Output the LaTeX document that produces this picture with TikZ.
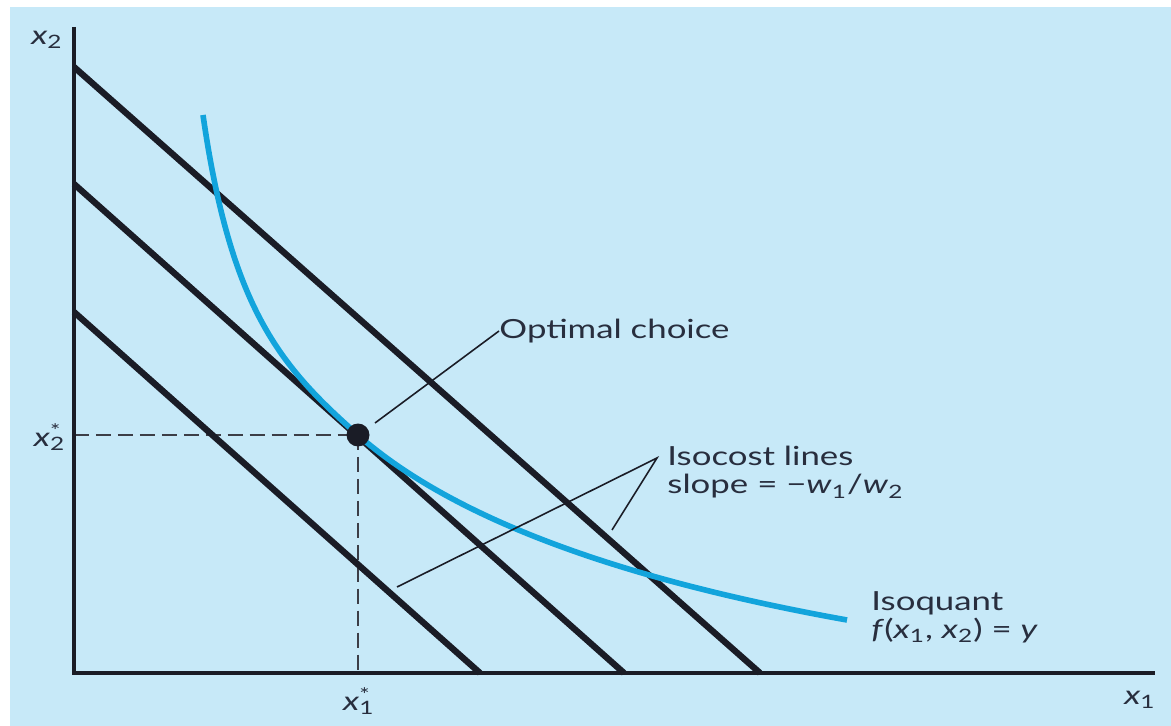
\documentclass[tikz,border=0pt]{standalone}
\usepackage{fontspec}
\setmainfont{Lato}
\usepackage{xcolor}
\usepackage{tikz}
\usetikzlibrary{positioning,calc}

\definecolor{bgblue}{RGB}{199,233,248}
\definecolor{qblue}{RGB}{18,164,220}
\definecolor{ink}{RGB}{26,28,38}
\definecolor{txt}{RGB}{40,46,62}

\newcommand{\vsub}[2]{\textit{#1}\textsubscript{#2}}
\newcommand{\vopt}[2]{\textit{#1}\rlap{\textsubscript{#2}}\textsuperscript{*}}

\begin{document}
\begin{tikzpicture}[
  x=0.02cm, y=-0.02cm,
  axis/.style={draw=ink,line width=2.3pt,line join=miter},
  budget/.style={draw=ink,line width=3.6pt},
  quant/.style={draw=qblue,line width=3.2pt},
  guide/.style={draw=ink!85,line width=1.1pt,dash pattern=on 8.5pt off 4pt},
  lead/.style={draw=ink,line width=0.9pt},
  lbl/.style={inner sep=0pt,text=txt,font=\fontsize{15}{16}\selectfont,align=left,xscale=1.32,transform shape}
]
\fill[white] (0,0) rectangle (1171,726);
\fill[bgblue] (10,7) rectangle (1171,726);
\useasboundingbox (0,0) rectangle (1171,726);

\coordinate (optpt) at (358,435);
\draw[guide] (74,435) -- (optpt);
\draw[guide] (optpt) -- (358,673);

% isocost lines
\draw[budget] (74,67) -- (760,673);
\draw[budget] (74,184) -- (624,673);
\draw[budget] (74,312) -- (480,673);

% isoquant
\draw[quant] (203,115) .. controls (231,310) and (281,367) .. (optpt)
  .. controls (443,510) and (596,575) .. (847,620);

\draw[axis] (74,27) -- (74,673) -- (1155,673);

\node[circle,fill=ink,inner sep=0pt,minimum size=0.46cm] (opt) at (optpt) {};

\node[lbl] (x2lbl) at (47,40) {\vsub{x}{2}};
\node[lbl] (x1lbl) at (1140,700) {\vsub{x}{1}};
\node[lbl,anchor=east] (x2star) at (62,437) {\vopt{x}{2}};
\node[lbl] (x1star) at (357,701) {\vopt{x}{1}};

\node[lbl,anchor=west] (optlbl) at (499,331) {Optimal choice};
\node[lbl,anchor=north west] (costlbl) at (667,446) {Isocost lines\\slope = −\vsub{w}{1}/\vsub{w}{2}};
\node[lbl,anchor=north west] (quantlbl) at (871,591) {Isoquant\\\textit{f}(\vsub{x}{1}, \vsub{x}{2}) = \textit{y}};

\coordinate (optfoot) at (375,423);
\draw[lead] (optfoot) -- (optlbl.west);
\coordinate (costtip) at (657,458);
\coordinate (costfoot1) at (397,587);
\coordinate (costfoot2) at (612,530);
\draw[lead] (costfoot1) -- (costtip) -- (costfoot2);
\end{tikzpicture}
\end{document}
